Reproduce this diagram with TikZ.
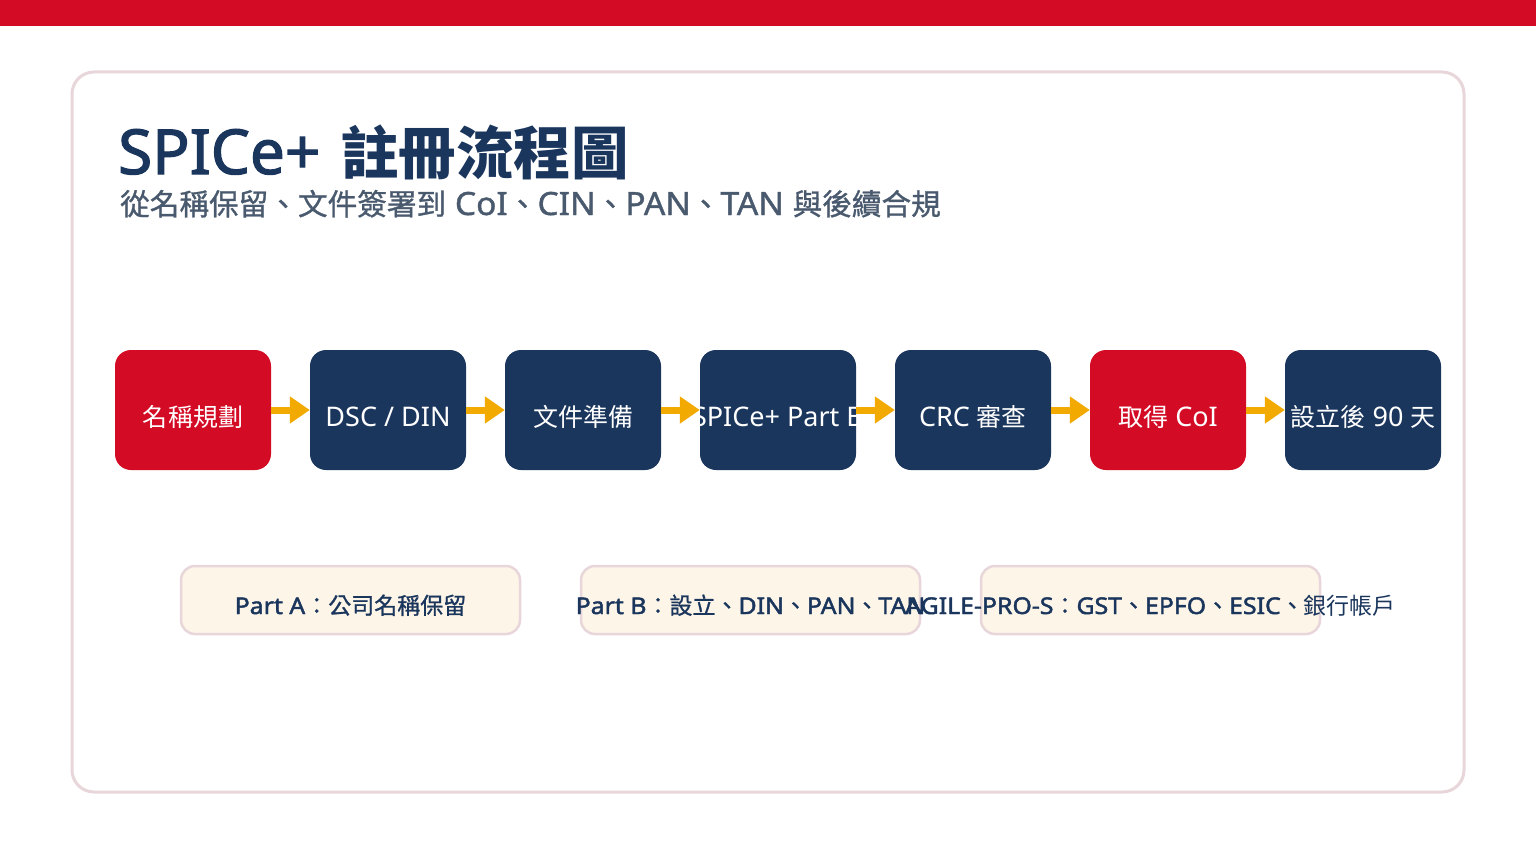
\documentclass[tikz,border=0pt]{standalone}
\usepackage{fontspec}
\setmainfont{Noto Sans}[BoldFont={Noto Sans},BoldFeatures={FakeBold=2}]
\newfontfamily\latsemi[FakeBold=1.2,FakeStretch=1.05]{Noto Sans}
\newfontfamily\latbold[FakeBold=2,FakeStretch=1.08]{Noto Sans}
\newfontfamily\cjkfont[Scale=0.926]{Noto Sans CJK TC}
\newfontfamily\cjksemi[Scale=0.926,FakeBold=1]{Noto Sans CJK TC}
\newfontfamily\cjkpart[FakeBold=1]{Noto Sans CJK TC}
\newfontfamily\cjkplain{Noto Sans CJK TC}
\newcommand\zh[1]{{\cjkfont #1}}
\newcommand\zhs[1]{{\cjksemi\mdseries #1}}
\newcommand\zhp[1]{{\cjkpart\mdseries #1}}
\newcommand\zhr[1]{{\cjkplain\mdseries #1}}
\usetikzlibrary{arrows.meta}
\definecolor{brandred}{HTML}{D40B25}
\definecolor{navy}{HTML}{1B365D}
\definecolor{flowor}{HTML}{F2A900}
\definecolor{frame}{HTML}{E8D6DA}
\definecolor{cream}{HTML}{FDF5E8}
\definecolor{slate}{HTML}{4A5A6E}
\tikzset{
  flowbox/.style={rounded corners=16pt, minimum width=156pt, minimum height=120pt, inner sep=0pt, draw=none},
  navybox/.style={flowbox, fill=navy},
  redbox/.style={flowbox, fill=brandred},
  flowtext/.style={anchor=base, inner sep=0pt, text=white, font=\fontsize{27}{32}\selectfont},
  flowarrow/.style={draw=flowor, line width=7pt, -{Triangle[length=20pt,width=26pt]}},
  partbox/.style={rounded corners=14pt, minimum width=339pt, minimum height=68pt, inner sep=0pt, draw=frame, line width=2.5pt, fill=cream},
  parttext/.style={anchor=base, inner sep=0pt, text=navy, font=\latbold\fontsize{23}{28}\selectfont},
}
\begin{document}
\begin{tikzpicture}[x=1pt,y=-1pt]
\useasboundingbox (0,0) rectangle (1536,864);
\fill[white] (0,0) rectangle (1536,864);
\fill[brandred] (0,0) rectangle (1536,26.5);
\draw[frame, line width=3pt, rounded corners=22pt] (72,72) rectangle (1464,792);
\node[anchor=base west, inner sep=0pt, text=navy, font=\bfseries\fontsize{62}{68}\selectfont] (title) at (118,174) {SPICe+\hspace{21pt}\zh{註冊流程圖}};
\node[anchor=base west, inner sep=0pt, text=slate, font=\latsemi\fontsize{32}{36}\selectfont] (subtitle) at (120,215) {\zhs{從名稱保留、文件簽署到} CoI\zhs{、}CIN\zhs{、}PAN\zhs{、}TAN \zhs{與後續合規}};
% flow boxes
\node[redbox] (b1) at (193,410) {};
\node[navybox] (b2) at (388,410) {};
\node[navybox] (b3) at (583,410) {};
\node[navybox] (b4) at (778,410) {};
\node[navybox] (b5) at (973,410) {};
\node[redbox] (b6) at (1168,410) {};
\node[navybox] (b7) at (1363,410) {};
\node[flowtext] (t1) at (193,426) {\zh{名稱規劃}};
\node[flowtext] (t2) at (388,426) {DSC / DIN};
\node[flowtext] (t3) at (583,426) {\zh{文件準備}};
\node[flowtext] (t4) at (778,426) {SPICe+ Part B};
\node[flowtext] (t5) at (973,426) {CRC \zh{審查}};
\node[flowtext] (t6) at (1168,426) {\zh{取得} CoI};
\node[flowtext] (t7) at (1363,426) {\zh{設立後} 90 \zh{天}};
\draw[flowarrow] (b1.east) -- (b2.west);
\draw[flowarrow] (b2.east) -- (b3.west);
\draw[flowarrow] (b3.east) -- (b4.west);
\draw[flowarrow] (b4.east) -- (b5.west);
\draw[flowarrow] (b5.east) -- (b6.west);
\draw[flowarrow] (b6.east) -- (b7.west);
% part boxes
\node[partbox] (p1) at (350.5,600) {};
\node[partbox] (p2) at (750.5,600) {};
\node[partbox] (p3) at (1150.5,600) {};
\node[parttext] (pt1) at (350.5,614) {Part A\zhp{：公司名稱保留}};
\node[parttext] (pt2) at (750.5,614) {Part B\zhp{：設立、}DIN\zhp{、}PAN\zhp{、}TAN};
\node[parttext] (pt3) at (1150.5,614) {AGILE-PRO-S\zhp{：}GST\zhp{、}EPFO\zhp{、}ESIC\zhp{、}\zhr{銀行帳戶}};
\end{tikzpicture}
\end{document}
